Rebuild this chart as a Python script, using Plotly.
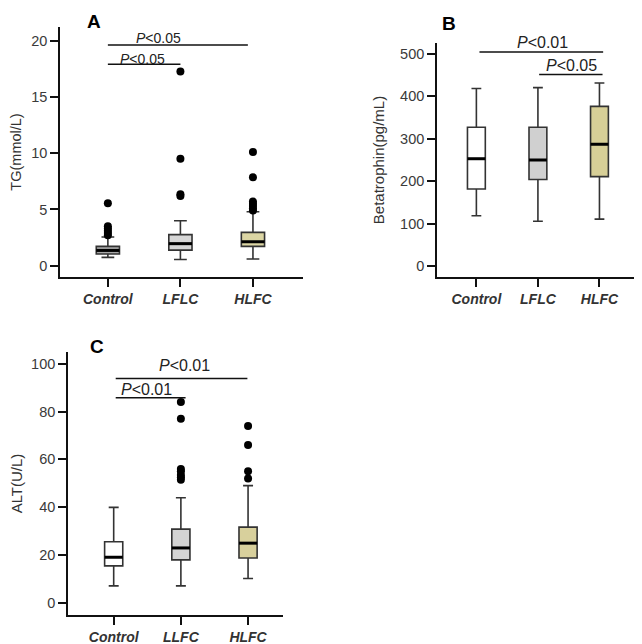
import plotly.graph_objects as go

# ---------------- data ----------------
groups_A = ["Control", "LFLC", "HLFC"]
tg_q1 = [1.04, 1.39, 1.72]
tg_med = [1.36, 1.96, 2.13]
tg_q3 = [1.72, 2.76, 2.96]
tg_low = [0.74, 0.56, 0.60]
tg_high = [2.55, 4.0, 4.8]
tg_out = [[2.7, 2.9, 3.1, 3.3, 3.5, 5.55],
          [6.2, 6.35, 9.5, 17.25],
          [4.9, 5.1, 5.3, 5.5, 5.7, 7.85, 10.1]]

groups_B = ["Control", "LFLC", "HLFC"]
bt_q1 = [182, 204, 211]
bt_med = [253, 250, 287]
bt_q3 = [327, 327, 376]
bt_low = [119, 106, 111]
bt_high = [418, 420, 431]
bt_out = [[], [], []]

groups_C = ["Control", "LLFC", "HLFC"]
alt_q1 = [15.4, 17.9, 18.7]
alt_med = [19.0, 22.9, 24.9]
alt_q3 = [25.5, 30.8, 31.6]
alt_low = [7.0, 7.0, 10.1]
alt_high = [39.9, 43.9, 49.0]
alt_out = [[], [51.5, 52.5, 53.5, 55, 56, 77, 84], [52, 55, 66, 74]]

fills_A = ["#a8a8a8", "#d6d6d6", "#dcd6a4"]
fills_B = ["#ffffff", "#d0d0d0", "#d7cf97"]
fills_C = ["#ffffff", "#d4d4d4", "#d8d09c"]

# significance bars: (x start, x end, y level, label, text x, px above)
sig_A = [(0.0, 1.93, 19.6, "0.05", 0.70, 7), (0.0, 1.0, 17.9, "0.05", 0.48, 5)]
sig_B = [(0.05, 2.06, 504, "0.01", 1.08, 9), (1.02, 2.05, 451, "0.05", 1.55, 9)]
sig_C = [(0.03, 1.99, 93.9, "0.01", 1.06, 13), (0.03, 1.07, 85.8, "0.01", 0.49, 8)]

fig = go.Figure()


def add_panel(xa, ya, groups, q1, med, q3, low, high, outs, fills, bw, sigs, psize):
    xref = "x" if xa == 1 else f"x{xa}"
    yref = "y" if ya == 1 else f"y{ya}"
    for i, g in enumerate(groups):
        fig.add_trace(go.Box(
            x=[i], q1=[q1[i]], median=[med[i]], q3=[q3[i]],
            lowerfence=[low[i]], upperfence=[high[i]],
            width=bw, whiskerwidth=0.55,
            fillcolor=fills[i], line=dict(color="#333333", width=1.6),
            xaxis=xref, yaxis=yref, showlegend=False, hoverinfo="skip"))
        fig.add_trace(go.Scatter(
            x=[i - bw / 2, i + bw / 2], y=[med[i], med[i]], mode="lines",
            line=dict(color="#000000", width=3), xaxis=xref, yaxis=yref,
            showlegend=False, hoverinfo="skip"))
        if outs[i]:
            fig.add_trace(go.Scatter(
                x=[i] * len(outs[i]), y=outs[i], mode="markers",
                marker=dict(color="#000000", size=8), xaxis=xref, yaxis=yref,
                showlegend=False, hoverinfo="skip"))
    for (x0, x1, yv, lab, tx, up) in sigs:
        fig.add_shape(type="line", x0=x0, x1=x1, y0=yv, y1=yv, xref=xref, yref=yref,
                      line=dict(color="#111111", width=1.5))
        fig.add_annotation(x=tx, y=yv, xref=xref, yref=yref, text=f"<i>P</i>&lt;{lab}",
                           showarrow=False, yanchor="middle", yshift=up,
                           font=dict(size=psize, color="#222222", family="Liberation Sans, Arial"))


add_panel(1, 1, groups_A, tg_q1, tg_med, tg_q3, tg_low, tg_high, tg_out, fills_A, 0.32, sig_A, 14)
add_panel(2, 2, groups_B, bt_q1, bt_med, bt_q3, bt_low, bt_high, bt_out, fills_B, 0.29, sig_B, 16)
add_panel(3, 3, groups_C, alt_q1, alt_med, alt_q3, alt_low, alt_high, alt_out, fills_C, 0.27, sig_C, 16)

# page body has an 8px margin, so the figure is 8px smaller and positions are shifted
OFF = 8
W, H = 642 - OFF, 644 - OFF
tickfont = dict(size=14.5, color="#3a3a3a", family="Liberation Sans, Arial")
catfont = dict(size=14, color="#333333", family="Liberation Sans, Arial", style="italic", weight="bold")


def xaxis(dom, rng, groups, anchor):
    return dict(domain=[(dom[0] - OFF) / W, (dom[1] - OFF) / W], range=rng, anchor=anchor,
                tickvals=list(range(len(groups))), ticktext=groups,
                showline=True, linecolor="#111111", linewidth=1.6,
                ticks="outside", ticklen=8, tickcolor="#111111", tickwidth=1.5,
                showgrid=False, zeroline=False, tickfont=catfont)


def yaxis(dom, rng, dtick, title, standoff, anchor, tsize):
    return dict(domain=[1 - (dom[1] - OFF) / H, 1 - (dom[0] - OFF) / H], range=rng, anchor=anchor,
                dtick=dtick, tick0=0, showline=True, linecolor="#111111", linewidth=1.6,
                ticks="outside", ticklen=8, tickcolor="#111111", tickwidth=1.5,
                showgrid=False, zeroline=False, tickfont=tickfont,
                title=dict(text=title, standoff=standoff,
                           font=dict(size=tsize, color="#333333", family="Liberation Sans, Arial")))


fig.update_layout(
    width=W, height=H, margin=dict(l=0, r=0, t=0, b=0),
    paper_bgcolor="white", plot_bgcolor="white",
    xaxis=xaxis((60, 303), [-0.66, 2.69], groups_A, "y"),
    yaxis=yaxis((27, 277), [-1, 21.2], 5, "TG(mmol/L)", 10, "x", 14.5),
    xaxis2=xaxis((437, 637), [-0.64, 2.61], groups_B, "y2"),
    yaxis2=yaxis((43, 277), [-25, 525], 100, "Betatrophin(pg/mL)", 12, "x2", 15),
    xaxis3=xaxis((68, 283), [-0.68, 2.52], groups_C, "y3"),
    yaxis3=yaxis((352, 615), [-5.2, 105], 20, "ALT(U/L)", 7, "x3", 15),
)

for txt, x, y in [("A", 94, 9), ("B", 449, 11), ("C", 97, 334)]:
    fig.add_annotation(text=f"<b>{txt}</b>", x=(x - OFF) / W, y=1 - (y - OFF) / H,
                       xref="paper", yref="paper",
                       showarrow=False, xanchor="center", yanchor="top",
                       font=dict(size=19, color="#000000", family="Liberation Sans, Arial"))

fig.write_html("out.html")
